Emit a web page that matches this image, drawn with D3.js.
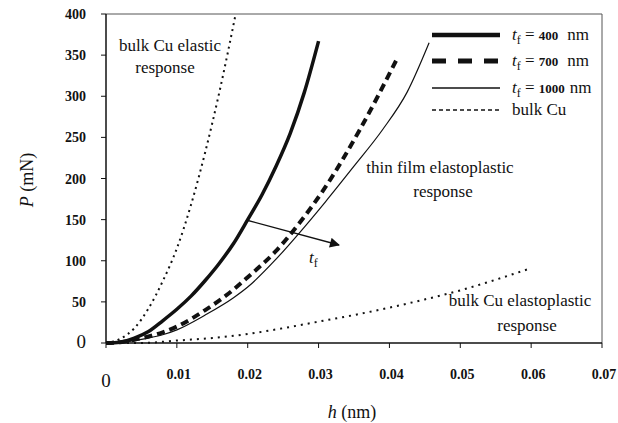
<!DOCTYPE html>
<html>
<head>
<meta charset="utf-8">
<script src="https://cdn.jsdelivr.net/npm/d3@7"></script>
<style>
  body { margin: 0; background: #fff; }
</style>
</head>
<body>
<svg id="chart" width="618" height="423" font-family="'Liberation Serif', 'DejaVu Serif', serif"></svg>
<script>
// Data: [h (nm), P (mN)]
const film400 = [[0,0],[0.002,1],[0.004,6],[0.006,14],[0.008,27],[0.010,41],[0.012,57],[0.014,76],[0.016,97],[0.018,121],[0.020,150],[0.022,180],[0.024,215],[0.026,255],[0.028,305],[0.030,367]];
const film700 = [[0,0],[0.002,1],[0.004,4],[0.006,8],[0.008,13],[0.010,20],[0.014,40],[0.018,65],[0.020,80],[0.024,112],[0.0273,146],[0.031,190],[0.0358,259],[0.0411,346]];
const film1000 = [[0,0],[0.002,1],[0.004,3],[0.006,6],[0.008,10],[0.010,16],[0.014,34],[0.018,55],[0.020,68],[0.024,102],[0.0273,134],[0.031,172],[0.035,215],[0.039,259],[0.0425,305],[0.0456,365]];
const bulkElastic = [[0,0],[0.002,5],[0.004,18],[0.006,42],[0.008,75],[0.010,115],[0.012,168],[0.014,232],[0.016,305],[0.0183,400]];
const bulkPlastic = [[0,0],[0.005,0],[0.010,3],[0.015,6],[0.020,11],[0.025,18],[0.030,26],[0.035,34],[0.040,43],[0.045,53],[0.050,64],[0.055,77],[0.060,91]];

const xTicks = [0, 0.01, 0.02, 0.03, 0.04, 0.05, 0.06, 0.07];
const yTicks = [0, 50, 100, 150, 200, 250, 300, 350, 400];
const legendNums = ["400", "700", "1000"];

const serif = "'Liberation Serif', 'DejaVu Serif', serif";
const svg = d3.select("#chart");
const x = d3.scaleLinear().domain([0, 0.07]).range([106, 602]);
const y = d3.scaleLinear().domain([0, 400]).range([343, 14]);

// frame (top + right)
svg.append("path")
  .attr("d", `M${x(0)},${y(400)}H${x(0.07)}V${y(0)}`)
  .attr("fill", "none").attr("stroke", "#555").attr("stroke-width", 1);

// axes
svg.append("line").attr("x1", x(0)).attr("x2", x(0)).attr("y1", y(0)).attr("y2", y(400))
  .attr("stroke", "#111").attr("stroke-width", 1.5);
svg.append("line").attr("x1", x(0)).attr("x2", x(0.07)).attr("y1", y(0)).attr("y2", y(0))
  .attr("stroke", "#111").attr("stroke-width", 1.5);

svg.append("g").selectAll("line").data(yTicks).join("line")
  .attr("x1", x(0) - 5).attr("x2", x(0)).attr("y1", d => y(d)).attr("y2", d => y(d))
  .attr("stroke", "#111");
svg.append("g").selectAll("line").data(xTicks).join("line")
  .attr("x1", d => x(d)).attr("x2", d => x(d)).attr("y1", y(0)).attr("y2", y(0) + 5)
  .attr("stroke", "#111");

svg.append("g").selectAll("text").data(yTicks).join("text")
  .attr("x", 86).attr("y", d => y(d) + 5)
  .attr("text-anchor", "end")
  .style("font-size", d => d === 0 ? "19px" : "14px")
  .style("font-weight", d => d === 0 ? "normal" : "bold")
  .text(d => d);
svg.append("g").selectAll("text").data(xTicks).join("text")
  .attr("x", d => x(d) + (d === 0 ? 0 : 2)).attr("y", d => d === 0 ? 387 : 379)
  .attr("text-anchor", "middle")
  .style("font-size", d => d === 0 ? "19px" : "14px")
  .style("font-weight", d => d === 0 ? "normal" : "bold")
  .text(d => d);

// axis titles
const xt = svg.append("text").attr("x", 352).attr("y", 418).attr("text-anchor", "middle").style("font-size", "18px");
xt.append("tspan").style("font-style", "italic").text("h");
xt.append("tspan").text(" (nm)");
const yt = svg.append("text").attr("transform", "translate(33,180) rotate(-90)").attr("text-anchor", "middle").style("font-size", "18px");
yt.append("tspan").style("font-style", "italic").text("P");
yt.append("tspan").text(" (mN)");

// curves
const line = d3.line().x(d => x(d[0])).y(d => y(d[1])).curve(d3.curveMonotoneX);
const curves = [
  { data: film400, w: 3.5, dash: null },
  { data: film700, w: 4, dash: "8,5" },
  { data: film1000, w: 1.2, dash: null },
  { data: bulkElastic, w: 2, dash: "2,4" },
  { data: bulkPlastic, w: 2, dash: "2,5" }
];
svg.append("g").selectAll("path").data(curves).join("path")
  .attr("d", d => line(d.data))
  .attr("fill", "none").attr("stroke", "#111")
  .attr("stroke-width", d => d.w)
  .attr("stroke-dasharray", d => d.dash);

// legend
const legend = [
  { w: 4.5, dash: null },
  { w: 5, dash: "14,12" },
  { w: 1.3, dash: null },
  { w: 1.5, dash: "4,3" }
];
const ly = [35, 61, 88, 110];
const lg = svg.append("g");
lg.selectAll("line").data(legend).join("line")
  .attr("x1", 432).attr("x2", 500)
  .attr("y1", (d, i) => ly[i]).attr("y2", (d, i) => ly[i])
  .attr("stroke", "#111").attr("stroke-width", d => d.w).attr("stroke-dasharray", d => d.dash);
legendNums.forEach((n, i) => {
  const t = lg.append("text").attr("x", 512).attr("y", ly[i] + 5).style("font-size", "17px");
  t.append("tspan").style("font-style", "italic").text("t");
  t.append("tspan").attr("dy", 4).style("font-size", "12px").text("f");
  t.append("tspan").attr("dy", -4).text(" = ");
  t.append("tspan").style("font-size", "13px").style("font-weight", "bold").text(n);
  t.append("tspan").attr("dx", n === "1000" ? 5 : 9).text("nm");
});
lg.append("text").attr("x", 512).attr("y", ly[3] + 5).style("font-size", "17px").text("bulk Cu");

// annotations
const ann = [
  { x: 170, y: 51, s: "bulk Cu elastic" },
  { x: 165, y: 73, s: "response" },
  { x: 440, y: 173, s: "thin film elastoplastic" },
  { x: 443, y: 197, s: "response" },
  { x: 520, y: 306, s: "bulk Cu elastoplastic" },
  { x: 527, y: 331, s: "response" }
];
svg.append("g").selectAll("text").data(ann).join("text")
  .attr("x", d => d.x).attr("y", d => d.y).attr("text-anchor", "middle")
  .style("font-size", "17px").text(d => d.s);

// arrow for t_f
svg.append("defs").append("marker").attr("id", "ah")
  .attr("viewBox", "0 0 10 10").attr("refX", 9).attr("refY", 5)
  .attr("markerWidth", 12).attr("markerHeight", 10).attr("markerUnits", "userSpaceOnUse")
  .attr("orient", "auto")
  .append("path").attr("d", "M0,0L10,5L0,10Z").attr("fill", "#111");
svg.append("line").attr("x1", 246).attr("y1", 220).attr("x2", 339).attr("y2", 245)
  .attr("stroke", "#111").attr("stroke-width", 1.3).attr("marker-end", "url(#ah)");
const tf = svg.append("text").attr("x", 309).attr("y", 263).style("font-size", "17px");
tf.append("tspan").style("font-style", "italic").text("t");
tf.append("tspan").attr("dy", 4).style("font-size", "12px").text("f");

svg.selectAll("text").attr("fill", "#111").style("font-family", serif);
</script>
</body>
</html>
